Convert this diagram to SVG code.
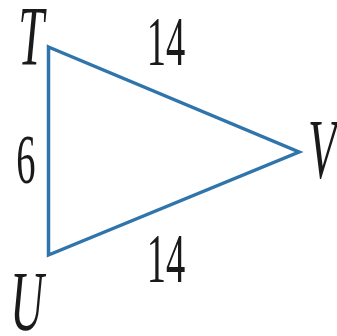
<svg xmlns="http://www.w3.org/2000/svg" width="337" height="336" viewBox="0 0 337 336">
<style>
.lbl{font-family:"Liberation Serif","Times New Roman",serif;font-style:italic;font-size:84px;fill:#1a1a1a;text-anchor:middle}
.num{font-family:"Liberation Serif","Times New Roman",serif;font-size:70px;fill:#1a1a1a;text-anchor:middle}
.edge{fill:none;stroke:#2f74aa;stroke-width:3.5;stroke-linejoin:miter}
</style>
<rect width="337" height="336" fill="#ffffff"/>
<g id="connectors">
<polygon class="edge" points="48.5,47 299,152 48.5,255"/>
</g>
<g id="T"><text class="lbl" transform="translate(31,65) scale(0.55,1)">T</text></g>
<g id="U"><text class="lbl" transform="translate(27,330) scale(0.55,1)">U</text></g>
<g id="V"><text class="lbl" transform="translate(322,178) scale(0.55,1)">V</text></g>
<g id="label-TV"><text class="num" transform="translate(166,65) scale(0.55,1)">14</text></g>
<g id="label-UV"><text class="num" transform="translate(166,282) scale(0.55,1)">14</text></g>
<g id="label-TU"><text class="num" transform="translate(26,183) scale(0.55,1)">6</text></g>
</svg>
